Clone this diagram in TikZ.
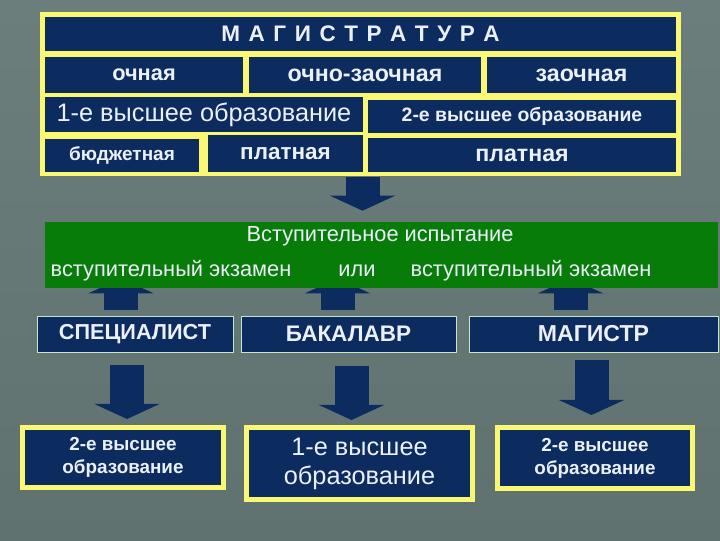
\documentclass[tikz,border=0pt]{standalone}
\usepackage{fontspec}
\setmainfont{Liberation Sans}
\setsansfont{Liberation Sans}
\usetikzlibrary{calc,arrows.meta}

\definecolor{navy}{RGB}{12,44,96}
\definecolor{lemon}{RGB}{250,248,115}
\definecolor{exam}{RGB}{8,124,8}
\definecolor{ink}{RGB}{236,240,250}
\definecolor{glow}{RGB}{196,232,200}
\definecolor{bgtop}{RGB}{108,126,124}
\definecolor{bgmid}{RGB}{210,247,247}
\definecolor{bgbot}{RGB}{96,114,112}

\newcommand{\fsz}[2]{\fontsize{#1}{#2}\selectfont}

\pgfdeclarelayer{back}
\pgfdeclarelayer{under}
\pgfsetlayers{back,under,main}

\begin{document}
\begin{tikzpicture}[x=0.025cm, y=-0.025cm, font=\sffamily,
    sz/.style 2 args={minimum width=#1*0.025cm, minimum height=#2*0.025cm},
    cell/.style={fill=navy, text=ink, inner sep=0pt},
    tier/.style={fill=navy, text=ink, inner sep=0pt, draw=glow, line width=0.6pt},
    result/.style={fill=navy, draw=lemon, line width=0.125cm, text=ink, inner sep=0pt, align=center},
    lbl/.style={text=ink, inner sep=0pt},
    blk/.style={draw=navy, line width=0.85cm, -{Triangle[length=0.38cm, width=1.65cm, line width=0pt]}}]

  % background
  \begin{pgfonlayer}{back}
    \shade[top color=bgtop, middle color=bgmid, bottom color=bgbot] (0,0) rectangle (720,540);
  \end{pgfonlayer}

  % magistratura table
  \node[fill=lemon, inner sep=0pt, sz={641}{164}] (frame) at (360.5,94) {};
  \node[cell, sz={631}{34}, font=\bfseries\fsz{16}{19}] (mag) at (360.5,34)
    {{\spaceskip=0.38em\relax М А Г И С Т Р А Т У Р А}};
  \node[cell, sz={198}{36}, font=\bfseries\fsz{15.5}{18}] (och) at (144,75) {очная};
  \node[cell, sz={232}{36}, font=\bfseries\fsz{16.5}{19}] (ochz) at (365,75) {очно-заочная};
  \node[cell, sz={189}{36}, font=\bfseries\fsz{16.5}{19}] (zaoch) at (581.5,75) {заочная};
  \node[cell, sz={318}{35}, font=\fsz{18}{21}] (vo1) at (204,114.5) {1-е высшее образование};
  \node[cell, sz={308}{33}, font=\bfseries\fsz{13.8}{16}] (vo2) at (522,116.5) {2-е высшее образование};
  \node[cell, sz={154}{33}, font=\bfseries\fsz{13.5}{16}] (budg) at (122,155.5) {бюджетная};
  \node[cell, sz={155}{37}, font=\bfseries\fsz{16}{19}] (pay1) at (285.5,153.5) {платная};
  \node[cell, sz={308}{34}, font=\bfseries\fsz{16.5}{19}] (pay2) at (522,155) {платная};

  % entrance test
  \node[fill=exam, inner sep=0pt, sz={673}{66}] (test) at (381.5,255) {};
  \node[lbl, font=\fsz{15.5}{18}] (testname) at (380,236) {Вступительное испытание};
  \node[lbl, font=\fsz{15.5}{18}] (examA) at (171,271) {вступительный экзамен};
  \node[lbl, font=\fsz{15.5}{18}] (or) at (357,271) {или};
  \node[lbl, font=\fsz{15.5}{18}] (examB) at (531,271) {вступительный экзамен};

  % degrees
  \node[tier, sz={196}{36}, font=\bfseries\fsz{15.4}{18}] (spec) at (135,334) {СПЕЦИАЛИСТ};
  \node[tier, sz={215}{36}, font=\bfseries\fsz{16}{19}] (bak) at (348.5,334) {БАКАЛАВР};
  \node[tier, sz={249}{36}, font=\bfseries\fsz{16.4}{19}] (mst) at (593.5,334) {МАГИСТР};

  % what follows
  \node[result, sz={201}{60}, font=\bfseries\fsz{13.4}{16.4}] (sec1) at (123,457.5) {2-е высшее\\образование};
  \node[result, sz={226}{72}, font=\fsz{18}{20.6}] (first) at (359.5,463.5) {1-е высшее\\образование};
  \node[result, sz={195}{61}, font=\bfseries\fsz{13.4}{16.4}] (sec2) at (595,458) {2-е высшее\\образование};

  % block arrows
  \begin{pgfonlayer}{under}
    \draw[blk] ($(frame.south)+(2,1)$) -- ($(frame.south |- test.north)+(2,-11)$);
    \foreach \a/\dx in {spec/-14, bak/-11, mst/-23}
      \draw[blk] ($(\a.north)+(\dx,-6)$) -- ($(\a.north |- test.south)+(\dx,-10)$);
    \foreach \a/\b/\dx/\up/\dn in {spec/sec1/-8/13/-6, bak/first/3/14/-5, mst/sec2/-2/8/-10}
      \draw[blk] ($(\a.south)+(\dx,\up)$) -- ($(\a.south |- \b.north)+(\dx,\dn)$);
  \end{pgfonlayer}
\end{tikzpicture}
\end{document}
